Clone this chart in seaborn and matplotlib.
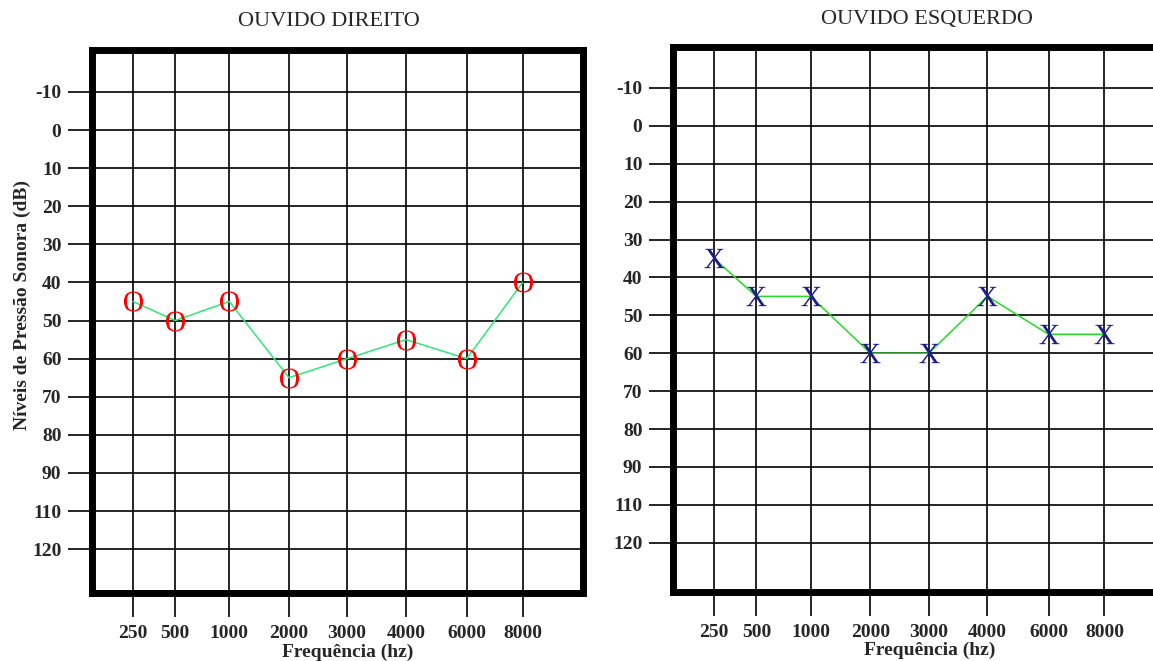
import numpy as np
import pandas as pd
import seaborn as sns
import matplotlib.pyplot as plt

# audiogram values (dB)
freq_labels = ['250', '500', '1000', '2000', '3000', '4000', '6000', '8000']
right_ear_db = [45, 50, 45, 65, 60, 55, 60, 40]
left_ear_db = [35, 45, 45, 60, 60, 45, 55, 55]

# y tick labels as printed on the chart (100 is skipped in the original)
db_ticks = [-10, 0, 10, 20, 30, 40, 50, 60, 70, 80, 90, 100, 110]
db_labels = ['-10', '0', '10', '20', '30', '40', '50', '60', '70', '80', '90', '110', '120']

# horizontal layout of the frequency columns (the original grid is uneven)
freq_pos = [0, 0.74, 1.69, 2.74, 3.76, 4.79, 5.86, 6.84]

sns.set_style('white')
plt.rcParams['font.family'] = ['Liberation Serif', 'DejaVu Serif']
plt.rcParams['mathtext.fontset'] = 'custom'
plt.rcParams['mathtext.rm'] = 'Liberation Serif'

fig = plt.figure(figsize=(11.53, 6.61), dpi=100)
W, H = 1153, 661


def make_axes(x0, x1, y0, y1):
    return fig.add_axes([x0 / W, 1 - y1 / H, (x1 - x0) / W, (y1 - y0) / H])


def style_axes(ax, ylim):
    ax.set_xlim(-0.72, 7.9)
    ax.set_ylim(*ylim)
    ax.set_xticks(freq_pos)
    ax.set_xticklabels(freq_labels, fontsize=14, fontweight='bold')
    ax.set_yticks(db_ticks)
    ax.set_yticklabels(db_labels, fontsize=14, fontweight='bold')
    ax.grid(True, color='black', linewidth=1.2)
    ax.set_axisbelow(True)
    ax.tick_params(axis='both', direction='out', length=17, width=1.2, color='black',
                   bottom=True, left=True)
    ax.tick_params(axis='y', pad=5)
    ax.tick_params(axis='x', pad=6)
    for sp in ax.spines.values():
        sp.set_visible(True)
        sp.set_linewidth(5)
        sp.set_color('black')
    ax.set_xlabel('')
    ax.set_ylabel('')


# Right ear (red O)
ax1 = make_axes(92, 583, 50, 593)
df_r = pd.DataFrame({'pos': freq_pos, 'db': right_ear_db})
sns.lineplot(data=df_r, x='pos', y='db', ax=ax1, color='#2de87a', linewidth=1.1, zorder=3)
sns.scatterplot(data=df_r, x='pos', y='db', ax=ax1, marker=r'$\mathrm{O}$', s=210,
                color='#ff0000', linewidth=0, zorder=4)
style_axes(ax1, (121.5, -21))
ax1.text(0.483, 1.052, 'OUVIDO DIREITO', transform=ax1.transAxes,
         ha='center', va='center', fontsize=16)

# Left ear (blue X)
ax2 = make_axes(673, 1165, 47, 592)
df_l = pd.DataFrame({'pos': freq_pos, 'db': left_ear_db})
sns.lineplot(data=df_l, x='pos', y='db', ax=ax2, color='#22dd22', linewidth=1.1, zorder=3)
sns.scatterplot(data=df_l, x='pos', y='db', ax=ax2, marker=r'$\mathrm{X}$', s=210,
                color='#1c1c8c', linewidth=0, zorder=4)
style_axes(ax2, (123, -20.8))
ax2.text(0.516, 1.05, 'OUVIDO ESQUERDO', transform=ax2.transAxes,
         ha='center', va='center', fontsize=16)

# axis titles
fig.text(22 / W, 1 - 305 / H, 'Níveis de Pressão Sonora (dB)', rotation=90,
         ha='center', va='center', fontsize=14, fontweight='bold')
fig.text(348 / W, 1 - 652 / H, 'Frequência (hz)', ha='center', va='center',
         fontsize=14, fontweight='bold')
fig.text(930 / W, 1 - 650 / H, 'Frequência (hz)', ha='center', va='center',
         fontsize=14, fontweight='bold')

fig.savefig('out.png', dpi=100)
